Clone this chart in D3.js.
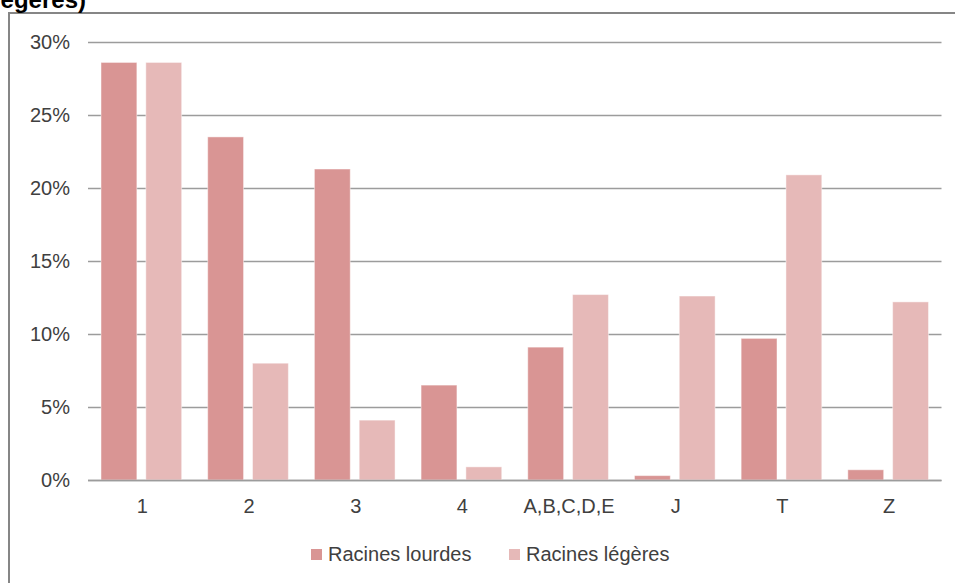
<!DOCTYPE html>
<html>
<head>
<meta charset="utf-8">
<script src="https://cdn.jsdelivr.net/npm/d3@7"></script>
<style>
html,body{margin:0;padding:0;background:#fff;overflow:hidden;}
text{font-family:"Liberation Sans",Arial,sans-serif;}
</style>
</head>
<body>
<svg id="chart" width="955" height="583"></svg>
<script>
const categories = ["1","2","3","4","A,B,C,D,E","J","T","Z"];
const seriesNames = ["Racines lourdes","Racines légères"];
const lourdes = [28.6, 23.5, 21.3, 6.5, 9.1, 0.3, 9.7, 0.7];
const legeres = [28.6, 8.0, 4.1, 0.9, 12.7, 12.6, 20.9, 12.2];
const yTicks = [0,5,10,15,20,25,30];
const colors = ["#d99594","#e6b9b8"];
const titleText = "légères)";

(function(){
const svg = d3.select("#chart");
const W = 955, H = 583;
svg.append("rect").attr("width",W).attr("height",H).attr("fill","#fff");
// frame
svg.append("rect").attr("x",9).attr("y",13).attr("width",W+20).attr("height",H+20)
  .attr("fill","none").attr("stroke","#868686").attr("stroke-width",2);
// clipped title fragment
svg.append("text").attr("x",86).attr("y",8).attr("text-anchor","end")
  .attr("font-weight","bold").attr("font-size",24).attr("fill","#000").text(titleText);

const mLeft = 88, mRight = 941.5, mTop = 42, mBottom = 480;
const x = d3.scaleBand().domain(categories).range([mLeft,mRight]).paddingInner(0.244).paddingOuter(0.122);
const xs = d3.scaleBand().domain(seriesNames).range([0,x.bandwidth()]).paddingInner(0.2);
const y = d3.scaleLinear().domain([0,30]).range([mBottom,mTop]);

// gridlines
svg.append("g").selectAll("line").data(yTicks).join("line")
  .attr("x1",mLeft).attr("x2",mRight)
  .attr("y1",d=>Math.round(y(d))+0.5).attr("y2",d=>Math.round(y(d))+0.5)
  .attr("stroke","#9c9c9c").attr("stroke-width",1.3);

// y labels
svg.append("g").selectAll("text").data(yTicks).join("text")
  .attr("x",70).attr("y",d=>y(d)).attr("dy","0.36em").attr("text-anchor","end")
  .attr("font-size",20).attr("fill","#404040").text(d=>d+"%");

// bars
const data = [lourdes, legeres];
const g = svg.append("g");
categories.forEach((c,i)=>{
  seriesNames.forEach((s,j)=>{
    const v = data[j][i];
    g.append("rect")
      .attr("x",x(c)+xs(s)).attr("width",xs.bandwidth())
      .attr("y",y(v)).attr("height",y(0)-y(v))
      .attr("fill",colors[j]).attr("stroke","rgba(255,255,255,0.45)").attr("stroke-width",1);
  });
});

// baseline
svg.append("line").attr("x1",mLeft).attr("x2",mRight).attr("y1",mBottom+0.5).attr("y2",mBottom+0.5)
  .attr("stroke","#9c9c9c").attr("stroke-width",1.3);

// x labels
svg.append("g").selectAll("text").data(categories).join("text")
  .attr("x",d=>x(d)+x.bandwidth()/2+1).attr("y",513).attr("text-anchor","middle")
  .attr("font-size",20).attr("fill","#404040").text(d=>d);

// legend
const legendX = [311, 509];
const lg = svg.append("g");
seriesNames.forEach((s,j)=>{
  lg.append("rect").attr("x",legendX[j]).attr("y",549).attr("width",11).attr("height",11).attr("fill",colors[j]);
  lg.append("text").attr("x",legendX[j]+17).attr("y",561).attr("font-size",20).attr("fill","#404040").text(s);
});
})();
</script>
</body>
</html>
